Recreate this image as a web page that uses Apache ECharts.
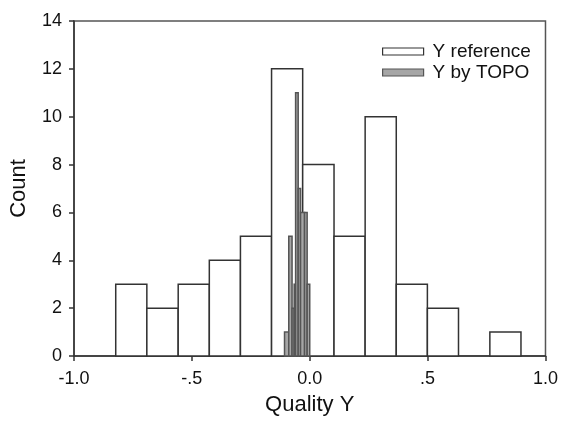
<!DOCTYPE html>
<html>
<head>
<meta charset="utf-8">
<script src="https://cdn.jsdelivr.net/npm/echarts@6/dist/echarts.min.js"></script>
<style>
html,body{margin:0;padding:0;background:#fff;}
#chart{width:561px;height:421px;}
</style>
</head>
<body>
<div id="chart"></div>
<script>
// Data
const refEdges = [-0.823, -0.691, -0.558, -0.426, -0.294, -0.162, -0.030, 0.103, 0.235, 0.367, 0.499, 0.631, 0.764, 0.896];
const refCounts = [3, 2, 3, 4, 5, 12, 8, 5, 10, 3, 2, 0, 1];
const topoEdges = [-0.107, -0.089, -0.075, -0.066, -0.060, -0.049, -0.039, -0.022, -0.011, 0.000];
const topoCounts = [1, 5, 2, 3, 11, 7, 6, 6, 3];
const xTickValues = [-1.0, -0.5, 0.0, 0.5, 1.0];
const xTickLabels = ['-1.0', '-.5', '0.0', '.5', '1.0'];
const yTicks = [0, 2, 4, 6, 8, 10, 12, 14];
const seriesNames = ['Y reference', 'Y by TOPO'];

function toBins(edges, counts) {
  const out = [];
  for (let i = 0; i < counts.length; i++) out.push([edges[i], edges[i + 1], counts[i]]);
  return out;
}

function histRender(fill, stroke) {
  return function (params, api) {
    const x0 = api.value(0), x1 = api.value(1), c = api.value(2);
    if (!c) return null;
    const p0 = api.coord([x0, c]);
    const p1 = api.coord([x1, 0]);
    return {
      type: 'rect',
      shape: { x: p0[0], y: p0[1], width: p1[0] - p0[0], height: p1[1] - p0[1] },
      style: { fill: fill, stroke: stroke, lineWidth: 1.5 }
    };
  };
}

const chart = echarts.init(document.getElementById('chart'), null, { renderer: 'canvas' });
const font = 'Liberation Sans, Arial, sans-serif';
chart.setOption({
  animation: false,
  backgroundColor: '#fff',
  grid: { left: 74, top: 21, width: 474, height: 340, show: true, borderColor: '#555', borderWidth: 1.5, backgroundColor: 'transparent' },
  legend: {
    orient: 'vertical',
    left: 382,
    top: 42,
    padding: 0,
    itemWidth: 41,
    itemHeight: 7,
    itemGap: 2,
    icon: 'rect',
    textStyle: { fontFamily: font, fontSize: 19, color: '#111', padding: [0, 0, 0, 4] },
    data: [
      { name: seriesNames[0], itemStyle: { color: '#fff', borderColor: '#333', borderWidth: 1.2 } },
      { name: seriesNames[1], itemStyle: { color: '#a6a6a6', borderColor: '#555', borderWidth: 1.2 } }
    ]
  },
  xAxis: {
    type: 'value',
    min: -1, max: 1, interval: 0.5,
    name: 'Quality Y', nameLocation: 'middle', nameGap: 38,
    nameTextStyle: { fontFamily: font, fontSize: 22, color: '#111' },
    axisLine: { onZero: false, lineStyle: { color: '#333', width: 1.5 } },
    axisTick: { show: true, inside: false, length: 5, lineStyle: { color: '#333', width: 1.5 } },
    axisLabel: {
      fontFamily: font, fontSize: 18, color: '#111', margin: 14,
      formatter: function (v) { const i = xTickValues.findIndex(t => Math.abs(t - v) < 1e-9); return i >= 0 ? xTickLabels[i] : ''; }
    },
    splitLine: { show: false }
  },
  yAxis: {
    type: 'value',
    min: yTicks[0], max: yTicks[yTicks.length - 1], interval: 2,
    name: 'Count', nameLocation: 'middle', nameGap: 44,
    nameTextStyle: { fontFamily: font, fontSize: 22, color: '#111' },
    axisLine: { show: true, onZero: false, lineStyle: { color: '#333', width: 1.5 } },
    axisTick: { show: true, inside: false, length: 5, lineStyle: { color: '#333', width: 1.5 } },
    axisLabel: { fontFamily: font, fontSize: 18, color: '#111', margin: 12 },
    splitLine: { show: false }
  },
  series: [
    {
      name: seriesNames[0], type: 'custom',
      itemStyle: { color: '#fff', borderColor: '#333' },
      encode: { x: [0, 1], y: 2 },
      renderItem: histRender('#fff', '#333'),
      data: toBins(refEdges, refCounts),
      z: 2
    },
    {
      name: seriesNames[1], type: 'custom',
      itemStyle: { color: '#a6a6a6', borderColor: '#555' },
      encode: { x: [0, 1], y: 2 },
      renderItem: histRender('#a6a6a6', '#555'),
      data: toBins(topoEdges, topoCounts),
      z: 3
    }
  ]
});
</script>
</body>
</html>
